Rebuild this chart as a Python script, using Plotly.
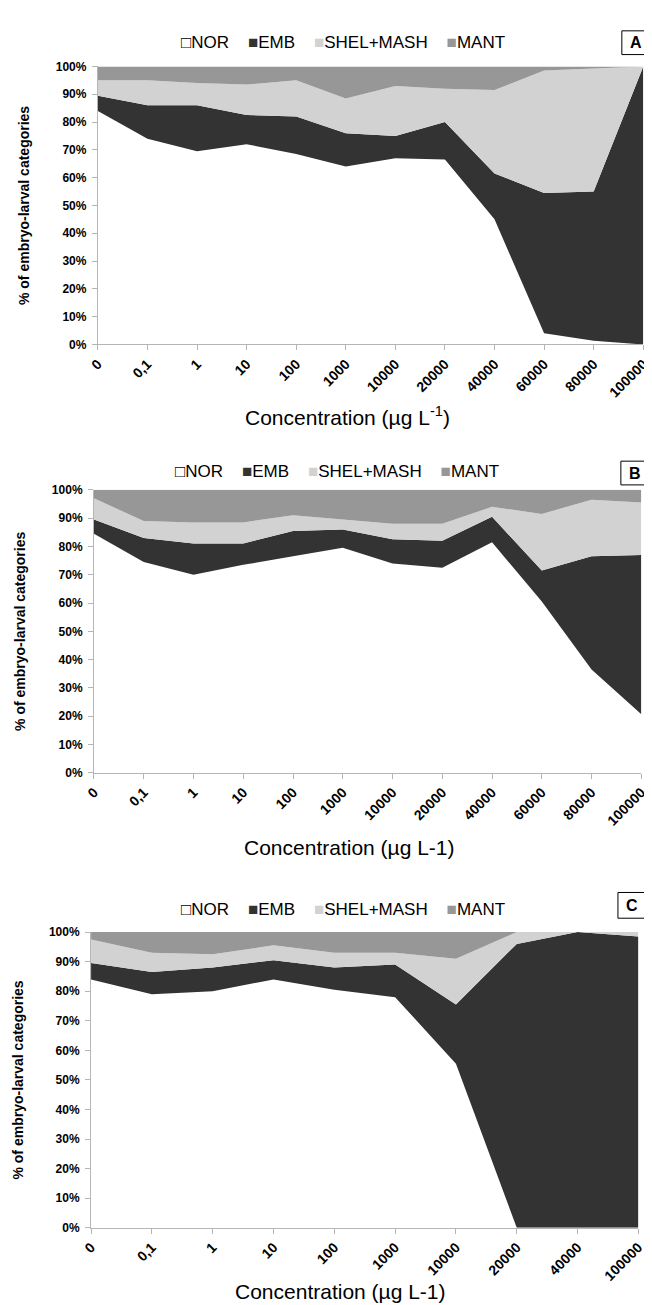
import plotly.graph_objects as go

# ---------------- data ----------------
cats_AB = ["0", "0,1", "1", "10", "100", "1000", "10000", "20000", "40000", "60000", "80000", "100000"]
cats_C = ["0", "0,1", "1", "10", "100", "1000", "10000", "20000", "40000", "100000"]

series_names = ["NOR", "EMB", "SHEL+MASH", "MANT"]

# Panel A (% of each category)
A_NOR = [84, 74, 69.5, 72, 68.5, 64, 67, 66.5, 45, 4, 1.3, 0]
A_EMB = [5.5, 12, 16.5, 10.5, 13.5, 12, 8, 13.5, 16.5, 50.5, 53.7, 100]
A_SHEL = [5.5, 9, 8, 11, 13, 12.5, 18, 12, 30, 44, 44.3, 0]
A_MANT = [5, 5, 6, 6.5, 5, 11.5, 7, 8, 8.5, 1.5, 0.7, 0]

# Panel B
B_NOR = [84.5, 74.5, 70, 73.5, 76.5, 79.5, 74, 72.5, 81.5, 60.5, 36.5, 20.7]
B_EMB = [5, 8.5, 11, 7.5, 9, 6.5, 8.5, 9.5, 9, 11, 40, 56.3]
B_SHEL = [7.5, 6, 7.5, 7.5, 5.5, 3.5, 5.5, 6, 3.5, 20, 20, 18.5]
B_MANT = [3, 11, 11.5, 11.5, 9, 10.5, 12, 12, 6, 8.5, 3.5, 4.5]

# Panel C
C_NOR = [84, 79, 80, 84, 80.5, 78, 55.5, 0, 0, 0]
C_EMB = [5.5, 7.5, 8, 6.5, 7.5, 11, 20, 96, 100, 98.5]
C_SHEL = [8, 6.5, 4.5, 5, 5, 4, 15.5, 4, 0, 1.5]
C_MANT = [2.5, 7, 7.5, 4.5, 7, 7, 9, 0, 0, 0]

panel_letters = ["A", "B", "C"]
y_title = "% of embryo-larval categories"
x_titles = ["Concentration (µg L<sup>-1</sup>)", "Concentration (µg L-1)", "Concentration (µg L-1)"]

# ---------------- style ----------------
W, H = 652, 1305
FONT = "Liberation Sans, Arial, Helvetica, sans-serif"
fill_colors = ["#ffffff", "#333333", "#d2d2d2", "#979797"]
AXCOL = "#b5b5b5"
NB = "\u00a0"

def px_x(p):
    return p / W

def px_y(p):
    return 1 - p / H

panels = [
    dict(cats=cats_AB, vals=[A_NOR, A_EMB, A_SHEL, A_MANT], x0=82, x1=642, ytop=52, ybot=333,
         leg_y=28, leg_x=334, box=(620, 16, 650, 40), title_y=405, title_x=338),
    dict(cats=cats_AB, vals=[B_NOR, B_EMB, B_SHEL, B_MANT], x0=78, x1=640, ytop=480, ybot=766,
         leg_y=461, leg_x=328, box=(619, 451, 648, 475), title_y=842, title_x=340),
    dict(cats=cats_C, vals=[C_NOR, C_EMB, C_SHEL, C_MANT], x0=75, x1=637, ytop=927, ybot=1226,
         leg_y=904, leg_x=334, box=(616, 887, 644, 913), title_y=1290, title_x=331),
]

# legend text built from the series names with coloured square keys
def legend_text():
    parts = []
    for j, name in enumerate(series_names):
        if j == 0:
            key = '<span style="color:#000000">\u25a1</span>'
        else:
            key = '<span style="color:%s">\u25a0</span>' % fill_colors[j]
        parts.append(key + name)
    return (NB * 4).join(parts)

fig = go.Figure()
layout = dict(
    width=W, height=H, margin=dict(l=0, r=0, t=0, b=0),
    paper_bgcolor="white", plot_bgcolor="white",
    font=dict(family=FONT, color="black"),
    showlegend=False,
)
annotations = []
shapes = []

for i, p in enumerate(panels):
    k = "" if i == 0 else str(i + 1)
    xa, ya = "x" + k, "y" + k
    for j, name in enumerate(series_names):
        fig.add_trace(go.Scatter(
            x=p["cats"], y=p["vals"][j], name=name, mode="lines",
            line=dict(width=0, color=fill_colors[j]), fillcolor=fill_colors[j],
            stackgroup="s" + str(i), xaxis=xa, yaxis=ya,
            hovertemplate="%{x}: %{y}%<extra>" + name + "</extra>",
        ))
    n = len(p["cats"])
    layout["xaxis" + k] = dict(
        domain=[px_x(p["x0"]), px_x(p["x1"])], anchor=ya,
        type="category", range=[0, n - 1], showgrid=False,
        showline=True, linecolor=AXCOL, linewidth=1,
        ticks="outside", ticklen=5, tickcolor=AXCOL,
        tickangle=-45, tickfont=dict(size=14, family=FONT, color="black", weight="bold"),
        fixedrange=True,
    )
    layout["yaxis" + k] = dict(
        domain=[px_y(p["ybot"]), px_y(p["ytop"])], anchor=xa,
        range=[0, 100], dtick=10, ticksuffix="%", showgrid=False,
        showline=True, linecolor=AXCOL, linewidth=1,
        ticks="outside", ticklen=5, tickcolor=AXCOL, ticklabelstandoff=3,
        tickfont=dict(size=12, family=FONT, color="black", weight="bold"),
        title=dict(text=y_title, font=dict(size=14, family=FONT, color="black", weight="bold"), standoff=22),
        fixedrange=True,
    )
    # legend row
    annotations.append(dict(text=legend_text(), xref="paper", yref="paper",
                            x=px_x(p["leg_x"]), y=px_y(p["leg_y"]),
                            xanchor="center", yanchor="middle", showarrow=False,
                            font=dict(size=17, family=FONT, color="black")))
    bx0, by0, bx1, by1 = p["box"]
    shapes.append(dict(type="rect", xref="paper", yref="paper",
                       x0=px_x(bx0), x1=px_x(bx1), y0=px_y(by1), y1=px_y(by0),
                       line=dict(color="black", width=1), fillcolor="white"))
    annotations.append(dict(text="<b>" + panel_letters[i] + "</b>", xref="paper", yref="paper",
                            x=px_x((bx0 + bx1) / 2), y=px_y((by0 + by1) / 2),
                            xanchor="center", yanchor="middle", showarrow=False,
                            font=dict(size=16, family=FONT, color="black")))
    annotations.append(dict(text=x_titles[i], xref="paper", yref="paper",
                            x=px_x(p["title_x"]), y=px_y(p["title_y"]),
                            xanchor="center", yanchor="middle", showarrow=False,
                            font=dict(size=21, family=FONT, color="black")))

layout["annotations"] = annotations
layout["shapes"] = shapes
fig.update_layout(**layout)
fig.write_html("out.html")
